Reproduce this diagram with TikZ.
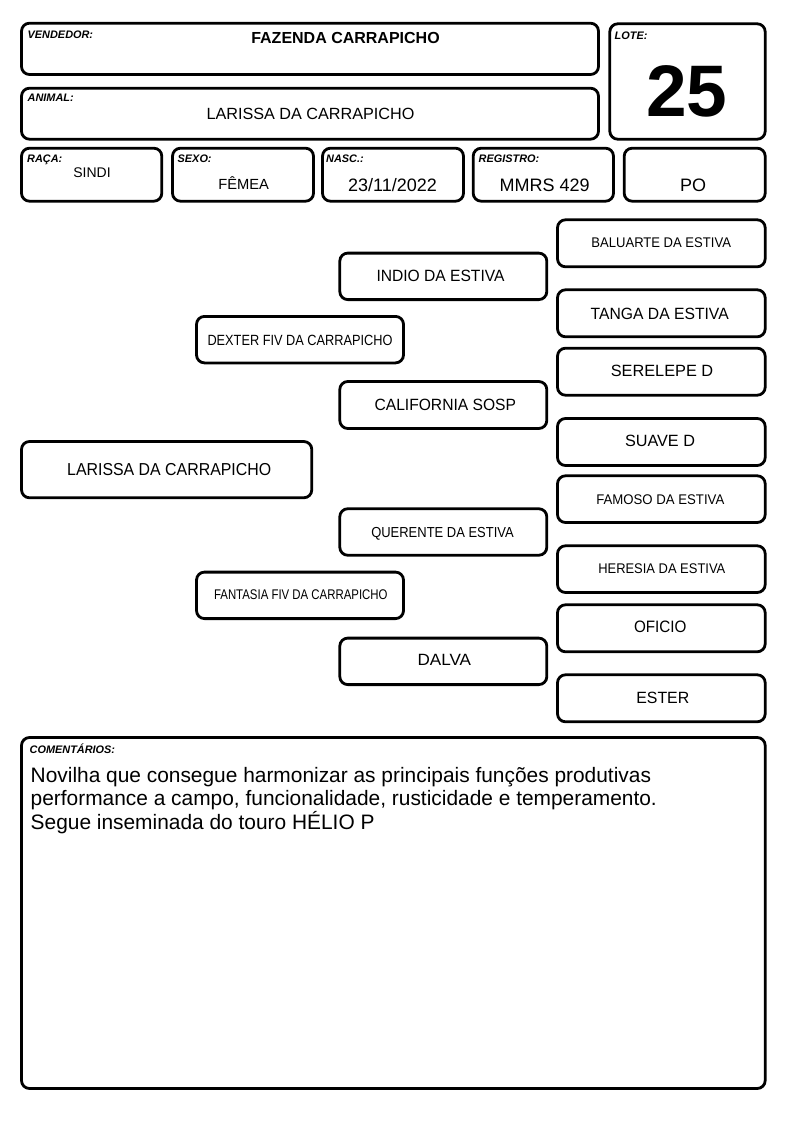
\documentclass[tikz,border=0pt]{standalone}
\usepackage{fontspec}
\setmainfont{Liberation Sans}
\usepackage{graphicx}
\newcommand\fitw[2]{\resizebox{#1pt}{\height}{#2}}
\begin{document}
\begin{tikzpicture}[x=1pt,y=-1pt,
  box/.style={draw=black,line width=2.8pt,rounded corners=8pt,inner sep=0pt,outer sep=0pt,fill=white},
  fs/.style={font=\fontsize{#1}{#1}\selectfont},
  lbl/.style={anchor=base west,inner sep=0pt,font=\fontsize{10.9}{11}\selectfont\bfseries\itshape},
  val/.style={anchor=base,inner sep=0pt,fs=#1},
  ped/.style={anchor=base,inner sep=0pt,fs=#1},
  pbox/.style={box,minimum width=207pt,minimum height=46.5pt}
]
\useasboundingbox[fill=white] (0,0) rectangle (794,1123);

% header boxes
\node[box,minimum width=577pt,minimum height=51.3pt] (vend) at (310,48.85) {};
\node[box,minimum width=577pt,minimum height=51pt] (anim) at (310,113.7) {};
\node[box,minimum width=155.4pt,minimum height=115.4pt] (lote) at (687.5,81.5) {};
\node[box,minimum width=140.3pt,minimum height=53pt] (raca) at (91.65,174.7) {};
\node[box,minimum width=141pt,minimum height=53pt] (sexo) at (243,174.7) {};
\node[box,minimum width=141pt,minimum height=53pt] (nasc) at (393,174.7) {};
\node[box,minimum width=140.3pt,minimum height=53pt] (reg) at (543.35,174.7) {};
\node[box,minimum width=141pt,minimum height=53pt] (po) at (694.7,174.7) {};

\node[lbl] (vendl) at (27.5,39) {VENDEDOR:};
\node[val=16,font=\fontsize{16}{16}\selectfont\bfseries] (vendv) at (345.5,43.5) {FAZENDA CARRAPICHO};
\node[lbl] (animl) at (27.5,101.5) {ANIMAL:};
\node[val=16.2] (animv) at (310.5,119.3) {LARISSA DA CARRAPICHO};
\node[lbl] (lotel) at (614.5,39.5) {LOTE:};
\node[anchor=base,inner sep=0pt,font=\fontsize{73}{73}\selectfont\bfseries] (lotev) at (687,116.7) {25};
\node[lbl] (racal) at (27,162.5) {RAÇA:};
\node[val=14] (racav) at (92,177.7) {SINDI};
\node[lbl] (sexol) at (177.5,162.5) {SEXO:};
\node[val=14.7] (sexov) at (243.7,190) {FÊMEA};
\node[lbl] (nascl) at (326,162.5) {NASC.:};
\node[val=18] (nascv) at (392.5,191.7) {23/11/2022};
\node[lbl] (regl) at (478.5,163) {REGISTRO:};
\node[val=18] (regv) at (544.7,191.7) {MMRS 429};
\node[val=18] (pov) at (693,191.7) {PO};

% pedigree boxes
\node[box,minimum width=290.3pt,minimum height=56.3pt] (b0) at (166.65,469.65) {};
\node[pbox] (b1) at (300,339.65) {};
\node[pbox] (b2) at (300,595.35) {};
\node[pbox] (b3) at (443.3,276.35) {};
\node[pbox,minimum height=47pt] (b4) at (443.3,405) {};
\node[pbox] (b5) at (443.3,532) {};
\node[pbox] (b6) at (443.3,661.35) {};
\node[pbox,minimum width=207.7pt,minimum height=47pt] (b7) at (661.35,243.3) {};
\node[pbox,minimum width=207.7pt,minimum height=47pt] (b8) at (661.35,313.3) {};
\node[pbox,minimum width=207.7pt,minimum height=47pt] (b9) at (661.35,371.7) {};
\node[pbox,minimum width=207.7pt,minimum height=47pt] (b10) at (661.35,442) {};
\node[pbox,minimum width=207.7pt,minimum height=46.7pt] (b11) at (661.35,499.15) {};
\node[pbox,minimum width=207.7pt,minimum height=46.7pt] (b12) at (661.35,569.15) {};
\node[pbox,minimum width=207.7pt,minimum height=47pt] (b13) at (661.35,628.3) {};
\node[pbox,minimum width=207.7pt,minimum height=47pt] (b14) at (661.35,698.3) {};

\node[ped=17.3] (t0) at (169.2,475.7) {\fitw{204}{LARISSA DA CARRAPICHO}};
\node[ped=14.8] (t1) at (300,345) {\fitw{185}{DEXTER FIV DA CARRAPICHO}};
\node[ped=14] (t2) at (300.8,599.3) {\fitw{173.5}{FANTASIA FIV DA CARRAPICHO}};
\node[ped=16.3] (t3) at (440.5,281.7) {\fitw{128}{INDIO DA ESTIVA}};
\node[ped=16.3] (t4) at (445.3,410.7) {\fitw{141.5}{CALIFORNIA SOSP}};
\node[ped=14.5] (t5) at (442.5,537.3) {\fitw{142.5}{QUERENTE DA ESTIVA}};
\node[ped=16.3] (t6) at (444.3,665.7) {\fitw{53.5}{DALVA}};
\node[ped=14] (t7) at (661.2,247.3) {\fitw{139.5}{BALUARTE DA ESTIVA}};
\node[ped=16.3] (t8) at (659.7,319) {\fitw{138}{TANGA DA ESTIVA}};
\node[ped=16.3] (t9) at (662,376.7) {\fitw{102.5}{SERELEPE D}};
\node[ped=16.3] (t10) at (660,446.7) {\fitw{70}{SUAVE D}};
\node[ped=14] (t11) at (660.3,504.3) {\fitw{128}{FAMOSO DA ESTIVA}};
\node[ped=14] (t12) at (661.8,573.3) {\fitw{127}{HERESIA DA ESTIVA}};
\node[ped=16.5] (t13) at (660.3,632.7) {\fitw{52.5}{OFICIO}};
\node[ped=16.3] (t14) at (662.8,703.3) {\fitw{53}{ESTER}};

% comments
\node[box,minimum width=743.7pt,minimum height=351pt] (com) at (393.35,913) {};
\node[lbl] (coml) at (29.5,753.5) {COMENTÁRIOS:};
\node[anchor=base west,inner sep=0pt,fs=20.9] (c1) at (30.5,782) {Novilha que consegue harmonizar as principais funções produtivas};
\node[anchor=base west,inner sep=0pt,fs=20.9] (c2) at (30.5,805.5) {performance a campo, funcionalidade, rusticidade e temperamento.};
\node[anchor=base west,inner sep=0pt,fs=20.9] (c3) at (30.5,829) {Segue inseminada do touro HÉLIO P};
\end{tikzpicture}
\end{document}
